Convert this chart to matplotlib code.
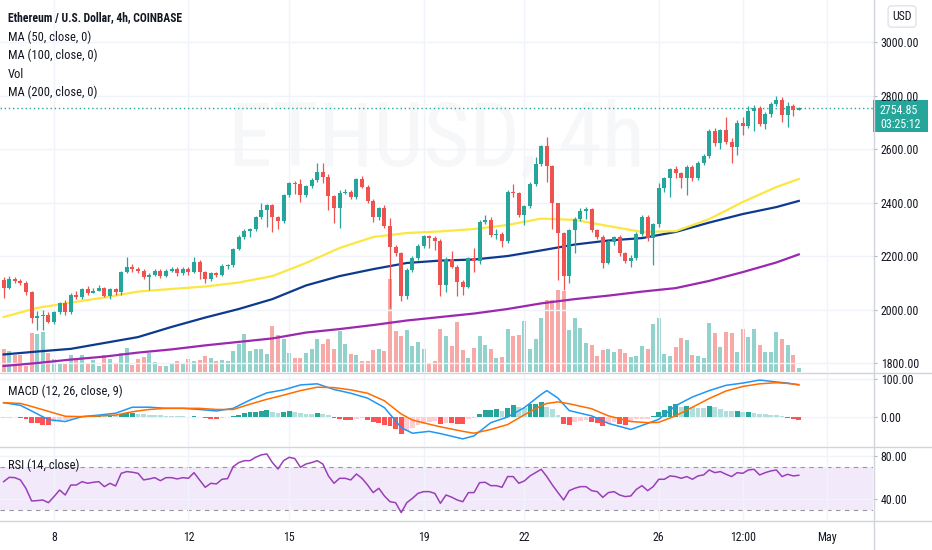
import numpy as np
import matplotlib
matplotlib.use('Agg')
import matplotlib.pyplot as plt
from matplotlib import font_manager
from matplotlib.patches import Rectangle
from matplotlib.lines import Line2D
from matplotlib.ticker import FuncFormatter

# TradingView text is narrow, use a condensed face when there is one
installed = {f.name for f in font_manager.fontManager.ttflist}
if 'Roboto Condensed' in installed:
    plt.rcParams['font.family'] = ['Roboto Condensed', 'DejaVu Sans']
    FS_TITLE, FS_LEG, FS_AX, FS_WM = 8.4, 9.0, 8.6, 64
else:
    plt.rcParams['font.family'] = ['Liberation Sans', 'DejaVu Sans']
    FS_TITLE, FS_LEG, FS_AX, FS_WM = 7.9, 8.4, 7.5, 56

# ---------- data (4h candles, first one opens 6 Apr 12:00) ----------
first_day = 6.5
first_open = 2110
closes = [2080, 2114, 2107, 2099, 2065, 1968, 1975, 1980, 1955, 1991,
          2024, 1990, 2054, 2047, 2075, 2062, 2070, 2080, 2051, 2075,
          2065, 2140, 2159, 2150, 2145, 2122, 2130, 2145, 2125, 2145,
          2150, 2135, 2150, 2140, 2178, 2140, 2114, 2135, 2130, 2162,
          2166, 2226, 2272, 2295, 2300, 2345, 2372, 2391, 2347, 2330,
          2428, 2474, 2470, 2428, 2462, 2484, 2515, 2497, 2425, 2378,
          2437, 2441, 2420, 2487, 2459, 2407, 2345, 2380, 2312, 2235,
          2212, 2051, 2148, 2191, 2237, 2275, 2266, 2258, 2092, 2189,
          2160, 2104, 2085, 2194, 2180, 2328, 2335, 2279, 2283, 2257,
          2440, 2435, 2353, 2387, 2469, 2543, 2611, 2536, 2397, 2285,
          2125, 2297, 2337, 2369, 2374, 2297, 2272, 2175, 2254, 2270,
          2210, 2183, 2193, 2282, 2345, 2266, 2320, 2453, 2491, 2524,
          2510, 2492, 2532, 2492, 2549, 2575, 2668, 2621, 2671, 2628,
          2609, 2696, 2686, 2743, 2752, 2693, 2731, 2768, 2783, 2727,
          2761, 2745, 2754.85]
highs = [2122, 2125, 2120, 2115, 2105, 2068, 1995, 2000, 1990, 1995,
         2030, 2035, 2060, 2070, 2080, 2088, 2080, 2090, 2085, 2080,
         2082, 2145, 2196, 2170, 2160, 2150, 2135, 2150, 2150, 2152,
         2158, 2160, 2158, 2158, 2196, 2185, 2145, 2140, 2140, 2170,
         2172, 2230, 2278, 2300, 2305, 2350, 2400, 2395, 2395, 2350,
         2432, 2478, 2480, 2487, 2466, 2490, 2546, 2546, 2505, 2428,
         2445, 2450, 2445, 2492, 2500, 2465, 2412, 2385, 2392, 2341,
         2240, 2215, 2155, 2200, 2245, 2280, 2280, 2275, 2262, 2195,
         2220, 2165, 2110, 2198, 2229, 2335, 2353, 2345, 2300, 2290,
         2445, 2469, 2440, 2392, 2475, 2571, 2615, 2644, 2540, 2400,
         2290, 2300, 2345, 2380, 2382, 2380, 2300, 2280, 2260, 2275,
         2280, 2215, 2205, 2290, 2353, 2355, 2325, 2472, 2495, 2530,
         2535, 2515, 2540, 2540, 2555, 2580, 2675, 2680, 2675, 2719,
         2640, 2710, 2720, 2760, 2765, 2760, 2740, 2775, 2798, 2795,
         2775, 2770, 2758]
lows = [2043, 2075, 2100, 2090, 2055, 1950, 1925, 1925, 1950, 1945,
        1985, 1980, 1985, 2040, 2040, 2055, 2060, 2068, 2045, 2040,
        2055, 2055, 2135, 2140, 2135, 2115, 2073, 2125, 2118, 2120,
        2140, 2125, 2130, 2130, 2135, 2115, 2100, 2108, 2122, 2125,
        2150, 2160, 2222, 2265, 2270, 2295, 2340, 2310, 2291, 2300,
        2325, 2420, 2430, 2403, 2420, 2455, 2478, 2474, 2372, 2325,
        2304, 2430, 2415, 2415, 2455, 2400, 2328, 2335, 2304, 2005,
        2200, 2033, 2040, 2140, 2185, 2230, 2229, 2222, 2050, 2067,
        2155, 2051, 2054, 2080, 2140, 2170, 2320, 2270, 2262, 2235,
        2250, 2420, 2345, 2316, 2380, 2460, 2535, 2475, 2300, 2110,
        2073, 2100, 2210, 2330, 2340, 2290, 2265, 2155, 2170, 2240,
        2200, 2175, 2160, 2185, 2275, 2255, 2166, 2310, 2440, 2419,
        2490, 2453, 2428, 2480, 2485, 2540, 2565, 2610, 2600, 2620,
        2549, 2578, 2652, 2680, 2668, 2685, 2674, 2720, 2760, 2702,
        2681, 2722, 2748]
volumes = [23, 21, 17, 17, 6, 39, 38, 40, 19, 13,
           9, 8, 17, 14, 17, 9, 12, 6, 17, 13,
           9, 19, 24, 7, 13, 15, 19, 10, 6, 6,
           8, 11, 8, 13, 11, 12, 16, 14, 11, 12,
           11, 21, 28, 38, 21, 23, 23, 18, 46, 37,
           33, 19, 14, 14, 19, 23, 33, 28, 33, 23,
           41, 28, 18, 17, 11, 11, 22, 23, 21, 93,
           41, 36, 42, 26, 30, 23, 9, 11, 43, 36,
           26, 50, 22, 14, 24, 36, 27, 23, 14, 15,
           43, 36, 37, 51, 23, 33, 54, 72, 72, 82,
           81, 42, 54, 44, 29, 27, 16, 22, 23, 20,
           23, 19, 15, 16, 26, 23, 48, 54, 18, 16,
           25, 34, 32, 17, 16, 14, 49, 39, 25, 40,
           39, 20, 43, 35, 43, 27, 20, 20, 40, 33,
           27, 17, 4]

ma_idx = [0, 6, 12, 18, 24, 30, 36, 42, 48, 54, 60, 66, 72, 78, 84,
          90, 96, 102, 108, 114, 120, 126, 132, 138, 142]
ma50 = [1972, 2006, 2026, 2045, 2067, 2077, 2086, 2101, 2125, 2174, 2230, 2271, 2286,
        2292, 2301, 2316, 2340, 2335, 2312, 2290, 2293, 2338, 2402, 2458, 2488]
ma100 = [1832, 1843, 1853, 1875, 1897, 1935, 1970, 2002, 2039, 2090, 2125, 2151, 2174,
         2183, 2187, 2200, 2221, 2243, 2258, 2267, 2290, 2325, 2357, 2383, 2406]
ma200 = [1789, 1800, 1813, 1824, 1839, 1851, 1866, 1879, 1892, 1914, 1927, 1942, 1959,
         1972, 1985, 2002, 2023, 2039, 2052, 2067, 2080, 2107, 2140, 2176, 2206]

macd_idx = [0, 3, 5, 8, 11, 14, 17, 20, 23, 26, 29, 32, 35, 38, 41, 44, 47, 50, 53, 56,
            59, 62, 65, 68, 71, 73, 76, 78, 82, 84, 87, 90, 93, 96, 97, 99, 101, 105,
            108, 112, 115, 117, 120, 123, 126, 129, 132, 135, 138, 140, 142]
macd_line = [38, 31, 16, -7, -12, 1, 5, 10, 26, 26, 23, 23, 20, 16, 23, 45, 64, 72, 85, 88,
             73, 63, 50, 25, -28, -43, -38, -44, -58, -50, -15, 0, 25, 60, 70, 50, 17, 3,
             -17, -33, -17, -6, 30, 53, 70, 84, 90, 98, 93, 90, 85]
signal_line = [38, 36, 28, 15, 2, 1, 3, 5, 14, 20, 23, 23, 23, 20, 20, 34, 47, 58, 70, 79,
               78, 72, 63, 43, 8, -8, -19, -26, -38, -43, -33, -20, 6, 30, 36, 40, 35, 22,
               3, -12, -15, -14, 3, 26, 49, 69, 81, 88, 91, 89, 86]
macd_hist = [-3, -2, -1, -3, -5, -15, -17, -20, -21, -12,
             -10, -8, -5, -3, -1, 2, 3, 4, 3, 5,
             4, 8, 10, 11, 9, 7, 6, 5, 4, 3,
             3, 2, 2, 1, 3, 1, -3, -4, -5, -3,
             -1, 3, 6, 10, 12, 14, 16, 19, 13, 10,
             13, 17, 14, 11, 9, 8, 10, 8, 4, -2,
             -6, -7, -8, -4, -3, -8, -12, -16, -20, -25,
             -33, -45, -36, -28, -22, -18, -14, -10, -19, -16,
             -17, -18, -19, -5, -3, 7, 18, 19, 20, 17,
             25, 31, 27, 23, 34, 35, 40, 27, 21, 5,
             -19, -20, -12, -10, -8, -12, -17, -25, -15, -12,
             -19, -21, -12, -6, -5, -4, 3, 13, 19, 29,
             34, 27, 28, 26, 25, 24, 29, 26, 21, 17,
             16, 17, 12, 14, 10, 9, 7, 5, 4, 2,
             -3, -4, -9]

rsi = [56.3, 60.3, 60.0, 57.9, 50.0, 38.5, 38.8, 39.4, 36.9, 42.5,
       48.6, 44.0, 53.2, 53.2, 56.3, 54.8, 55.7, 56.3, 51.7, 54.8,
       52.3, 64.0, 65.6, 65.0, 64.0, 57.9, 58.8, 60.0, 57.2, 60.0,
       60.0, 58.8, 60.0, 59.4, 64.6, 57.9, 51.1, 54.8, 54.2, 58.5,
       59.1, 70.2, 73.9, 75.7, 75.7, 78.8, 81.0, 81.9, 73.9, 68.0,
       75.7, 78.8, 77.6, 69.6, 72.6, 73.9, 75.7, 72.6, 61.6, 54.8,
       59.4, 59.4, 57.9, 63.4, 59.4, 53.2, 46.2, 50.2, 43.1, 37.8,
       36.9, 27.7, 36.9, 40.9, 45.5, 47.1, 47.1, 45.5, 36.3, 44.0,
       42.0, 39.4, 37.8, 46.2, 46.2, 55.4, 55.7, 52.6, 52.6, 51.1,
       61.0, 61.0, 54.8, 57.0, 61.6, 64.6, 67.7, 61.0, 53.2, 46.2,
       39.4, 48.0, 50.2, 51.7, 51.7, 48.0, 47.1, 41.8, 46.2, 47.1,
       44.0, 42.5, 43.1, 49.2, 52.6, 48.0, 51.7, 58.5, 58.5, 61.6,
       61.0, 59.4, 61.0, 58.5, 61.6, 62.5, 67.1, 64.6, 65.6, 63.1,
       61.0, 64.6, 64.0, 67.1, 67.7, 62.5, 64.6, 66.2, 67.1, 61.0,
       63.1, 61.6, 62.2]

date_ticks = [8, 12, 15, 19, 22, 26, 28.5, 31]
date_labels = ['8', '12', '15', '19', '22', '26', '12:00', 'May']
price_ticks = [1800, 2000, 2200, 2400, 2600, 2800, 3000]
last_price = 2754.85
countdown = '03:25:12'

# ---------- colours ----------
UP, DOWN = '#26a69a', '#ef5350'
VOL_UP, VOL_DOWN = '#92d2cc', '#f7a9a7'
GRID = '#f0f3fa'
SEP = '#d1d4dc'
TXT = '#131722'

W, H = 932, 550
AX_RIGHT = 873


def frame(top, bottom):
    return [0, 1 - bottom / H, AX_RIGHT / W, (bottom - top) / H]


def cx(idx):
    return first_day + np.asarray(idx) / 6.0


fig = plt.figure(figsize=(W / 100, H / 100), dpi=100)
fig.patch.set_facecolor('white')

ax_p = fig.add_axes(frame(0, 372))
ax_v = ax_p.twinx()
ax_m = fig.add_axes(frame(373, 446), sharex=ax_p)
ax_r = fig.add_axes(frame(447, 520), sharex=ax_p)

xlim = (cx(-0.643), cx(155.25))
fmt = FuncFormatter(lambda v, p: f'{v:.2f}')

for ax in (ax_p, ax_m, ax_r):
    for s in ax.spines.values():
        s.set_visible(False)
    ax.yaxis.tick_right()
    ax.tick_params(axis='y', length=3, color='#b2b5be', labelsize=FS_AX, labelcolor=TXT, pad=2.5)
    ax.tick_params(axis='x', length=0, labelbottom=False)
    ax.set_xticks(date_ticks)
    ax.grid(True, color=GRID, lw=1)
    ax.yaxis.set_major_formatter(fmt)
    ax.set_xlim(*xlim)

# ---------- price panel ----------
n = len(closes)
x = cx(np.arange(n))
c = np.array(closes, dtype=float)
o = np.array([first_open] + closes[:-1], dtype=float)
hi = np.maximum(np.array(highs, dtype=float), np.maximum(o, c))
lo = np.minimum(np.array(lows, dtype=float), np.minimum(o, c))
up = c >= o
cols = np.where(up, UP, DOWN)
w = 0.72 / 6

ax_v.set_zorder(0)
ax_p.set_zorder(1)
ax_p.patch.set_visible(False)
ax_v.bar(x, volumes, width=w, color=np.where(up, VOL_UP, VOL_DOWN), lw=0)
ax_v.set_ylim(0, 372)
ax_v.yaxis.set_visible(False)
for s in ax_v.spines.values():
    s.set_visible(False)

ax_p.set_ylim(1766.5, 3157)
ax_p.set_yticks(price_ticks)
ax_p.text(0.4994, 0.621, 'ETHUSD, 4h', transform=ax_p.transAxes, ha='center', va='center',
          fontsize=FS_WM, color='#f6f7f9', zorder=0)

ax_p.plot(cx(ma_idx), ma200, color='#9c27b0', lw=1.6, zorder=2)
ax_p.plot(cx(ma_idx), ma100, color='#0d3a8f', lw=1.6, zorder=2)
ax_p.plot(cx(ma_idx), ma50, color='#fbe740', lw=1.6, zorder=2)

ax_p.vlines(x, lo, hi, colors=cols, lw=0.9, zorder=3)
ax_p.bar(x, np.maximum(np.abs(c - o), 3), bottom=np.minimum(o, c), width=w, color=cols,
         lw=0, zorder=4)
ax_p.axhline(last_price, color=UP, lw=1, ls=(0, (1, 2)), zorder=2)

# ---------- MACD panel ----------
hist = np.array(macd_hist, dtype=float)
prev = np.concatenate([[hist[0]], hist[:-1]])
hcol = np.where(hist >= 0, np.where(hist > prev, '#26a69a', '#b2dfdb'),
                np.where(hist < prev, '#ff5252', '#ffcdd2'))
ax_m.bar(x, hist, width=0.85 / 6, color=hcol, lw=0, zorder=2)
ax_m.plot(cx(macd_idx), macd_line, color='#2196f3', lw=1.1, zorder=3)
ax_m.plot(cx(macd_idx), signal_line, color='#ff6d00', lw=1.1, zorder=3)
ax_m.set_ylim(-76.9, 116.7)
ax_m.set_yticks([0, 100])

# ---------- RSI panel ----------
ax_r.axhspan(30, 70, color='#f2eafb', lw=0, zorder=0)
for lvl in (30, 70):
    ax_r.axhline(lvl, color='#9598a1', lw=0.8, ls=(0, (4, 4)), zorder=1)
ax_r.plot(x, rsi, color='#9a3fb8', lw=1.1, zorder=3)
ax_r.set_ylim(20.9, 88.3)
ax_r.set_yticks([40, 80])
ax_r.set_xticklabels(date_labels)
ax_r.tick_params(axis='x', labelbottom=True, labelsize=FS_AX, labelcolor=TXT, pad=8)

# ---------- frame lines ----------
for yy in (372.5, 446.5, 520.5):
    fig.add_artist(Line2D([0, 1], [1 - yy / H] * 2, transform=fig.transFigure, color=SEP, lw=1))
fig.add_artist(Line2D([(AX_RIGHT + 0.5) / W] * 2, [0, 1], transform=fig.transFigure,
                      color=SEP, lw=1))

# ---------- legend texts ----------
fig.text(8 / W, 1 - 18 / H, 'Ethereum / U.S. Dollar, 4h, COINBASE', fontsize=FS_TITLE,
         color=TXT, va='center', fontweight='bold')
for yy, label in zip((37, 55, 74, 92),
                     ('MA (50, close, 0)', 'MA (100, close, 0)', 'Vol', 'MA (200, close, 0)')):
    fig.text(8 / W, 1 - yy / H, label, fontsize=FS_LEG, color=TXT, va='center')
fig.text(8 / W, 1 - 391 / H, 'MACD (12, 26, close, 9)', fontsize=FS_LEG, color=TXT, va='center')
fig.text(8 / W, 1 - 465 / H, 'RSI (14, close)', fontsize=FS_LEG, color=TXT, va='center')

# ---------- price label + USD box ----------
fig.add_artist(Rectangle((AX_RIGHT / W, 1 - 132 / H), 55 / W, 32 / H,
                         transform=fig.transFigure, color=UP, lw=0))
fig.text(880 / W, 1 - 110 / H, f'{last_price:.2f}', fontsize=FS_AX, color='white',
         va='center')
fig.text(880 / W, 1 - 124.5 / H, countdown, fontsize=FS_AX, color='white', va='center')
fig.text(902 / W, 1 - 16.5 / H, 'USD', fontsize=FS_AX, color=TXT, ha='center', va='center',
         bbox=dict(boxstyle='round,pad=0.35,rounding_size=0.3', fc='white', ec='#e0e3eb', lw=1))

fig.savefig('out.png', dpi=100)
